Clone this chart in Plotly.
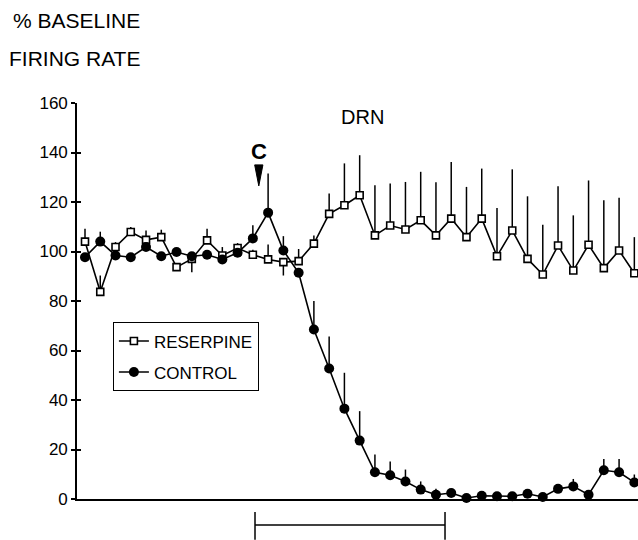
import plotly.graph_objects as go

# time points (equally spaced samples)
t = list(range(37))

reserpine = [104, 83.7, 101.8, 107.9, 104.7, 105.8, 93.7, 97, 104.5, 98.4,
             101.4, 98.7, 96.8, 95.7, 96.1, 103.2, 115.2, 118.7, 122.7, 106.5,
             110.5, 108.9, 112.6, 106.5, 113.3, 105.8, 113.3, 98.1, 108.5, 97,
             90.7, 102.4, 92.3, 102.7, 93.3, 100.4, 91.2]
reserpine_err_up = [5.2, 6.6, 2, 2, 3.8, 3, 0, 0, 4.7, 3.4,
                    2, 2, 6, 0, 4.9, 3.3, 8.2, 16.9, 16.2, 20.3,
                    17, 19.2, 19.6, 21.5, 22.9, 20.3, 20.2, 19.5, 24.7, 25.3,
                    20.1, 24, 22.3, 26, 27.4, 21.3, 14.6]
reserpine_err_down = [0, 0, 0, 0, 0, 0, 0, 5.4, 0, 0,
                      0, 0, 0, 5.4, 0, 0, 0, 0, 0, 0,
                      0, 0, 0, 0, 0, 0, 0, 0, 0, 0,
                      0, 0, 0, 0, 0, 0, 0]

control = [97.7, 104, 98.4, 97.7, 101.8, 98.1, 99.8, 98.1, 98.7, 96.8,
           99.5, 105.3, 115.7, 100.4, 91.4, 68.5, 52.7, 36.5, 23.6, 10.8,
           9.6, 7.1, 3.8, 1.7, 2.4, 0.4, 1.3, 1.1, 1.1, 2.1,
           0.8, 4.1, 5.1, 1.7, 11.6, 10.8, 6.7]
control_err_up = [1, 4, 1, 0, 1, 0, 1, 0, 1, 0,
                  1, 5.3, 15.8, 5.8, 1, 11.5, 13, 14.5, 11.9, 7.2,
                  5.6, 4.8, 3.3, 2.4, 1, 0, 0, 0, 0, 0,
                  0, 1, 3, 0, 4.6, 5.4, 3.2]

y_ticks = [0, 20, 40, 60, 80, 100, 120, 140, 160]

FONT = "Liberation Sans, Arial, Helvetica, sans-serif"

fig = go.Figure()

fig.add_trace(go.Scatter(
    x=t, y=reserpine, name="RESERPINE", mode="lines+markers",
    legendgroup="r",
    line=dict(color="black", width=1.6),
    marker=dict(symbol="square", size=7, color="white",
                line=dict(color="black", width=1.6)),
    error_y=dict(type="data", symmetric=False, array=reserpine_err_up,
                 arrayminus=reserpine_err_down, color="black",
                 thickness=1.5, width=0),
    cliponaxis=False,
))
fig.add_trace(go.Scatter(
    x=t, y=control, name="CONTROL", mode="lines+markers",
    legendgroup="c",
    line=dict(color="black", width=1.6),
    marker=dict(symbol="circle", size=10, color="black"),
    error_y=dict(type="data", symmetric=False, array=control_err_up,
                 arrayminus=[0] * len(control), color="black",
                 thickness=1.5, width=0),
    cliponaxis=False,
))

# invisible trace to carry a second (overlay) y axis for inside ticks
fig.add_trace(go.Scatter(x=[t[0]], y=[0], yaxis="y2", mode="markers",
                         marker=dict(opacity=0), showlegend=False,
                         hoverinfo="skip"))

fig.update_layout(
    width=638, height=540,
    margin=dict(l=77, r=0, t=103, b=41),
    paper_bgcolor="white", plot_bgcolor="white",
    font=dict(family=FONT, color="black", size=17),
    xaxis=dict(range=[-0.524, 36.24], showgrid=False, zeroline=False,
               showline=True, linecolor="black", linewidth=1.6,
               showticklabels=False, ticks=""),
    yaxis=dict(range=[0, 160], tickvals=y_ticks, showgrid=False,
               zeroline=False, showline=True, linecolor="black",
               linewidth=1.6, ticks="outside", ticklen=4, tickwidth=1.5,
               tickcolor="black", tickfont=dict(size=17, family=FONT)),
    yaxis2=dict(range=[0, 160], overlaying="y", tickvals=y_ticks,
                showgrid=False, zeroline=False, showline=False,
                ticks="inside", ticklen=4, tickwidth=1.5, tickcolor="black",
                showticklabels=False),
    legend=dict(x=0.064, y=0.446, xanchor="left", yanchor="top",
                bgcolor="white", bordercolor="black", borderwidth=1,
                font=dict(size=17, family=FONT), itemwidth=30,
                tracegroupgap=6),
    showlegend=True,
)

# headings
fig.add_annotation(text="% BASELINE", xref="paper", yref="paper",
                   x=-0.118, y=1.208, xanchor="left", yanchor="middle",
                   showarrow=False, font=dict(size=21, family=FONT))
fig.add_annotation(text="FIRING RATE", xref="paper", yref="paper",
                   x=-0.125, y=1.113, xanchor="left", yanchor="middle",
                   showarrow=False, font=dict(size=21, family=FONT))
fig.add_annotation(text="DRN", x=18.2, y=154.5, xref="x", yref="y",
                   showarrow=False, font=dict(size=20, family=FONT))
fig.add_annotation(text="<b>C</b>", x=11.4, y=140.5, xref="x", yref="y",
                   showarrow=False, font=dict(size=22, family=FONT))

# arrowhead under "C"
fig.add_shape(type="path", xref="x", yref="y",
              path="M 11.12 135 L 11.66 135 L 11.39 126.5 Z",
              fillcolor="black", line=dict(color="black", width=1))

# treatment bracket under the x axis
bx0, bx1 = 0.3173, 0.656
fig.add_shape(type="line", xref="paper", yref="paper", x0=bx0, x1=bx1,
              y0=-0.0657, y1=-0.0657, line=dict(color="black", width=1.5))
fig.add_shape(type="line", xref="paper", yref="paper", x0=bx0, x1=bx0,
              y0=-0.033, y1=-0.103, line=dict(color="black", width=1.5))
fig.add_shape(type="line", xref="paper", yref="paper", x0=bx1, x1=bx1,
              y0=-0.033, y1=-0.103, line=dict(color="black", width=1.5))

fig.write_html("out.html")
